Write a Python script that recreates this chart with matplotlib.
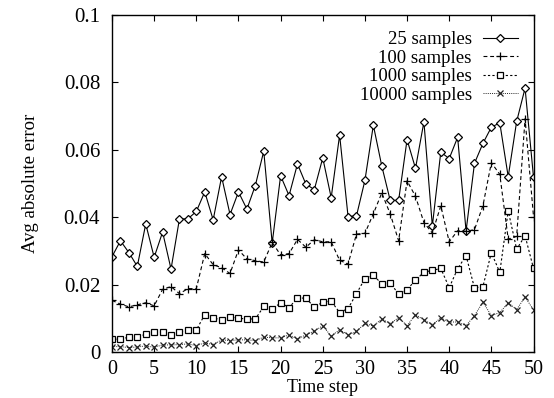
"""Average absolute error per time step for different sample counts."""

import matplotlib
matplotlib.use("Agg")
import matplotlib.pyplot as plt

steps = list(range(51))

err_25 = [0.0283, 0.0330, 0.0295, 0.0254, 0.0380, 0.0281, 0.0356, 0.0246, 0.0395, 0.0395,
          0.0417, 0.0475, 0.0392, 0.0520, 0.0408, 0.0475, 0.0424, 0.0494, 0.0596, 0.0323,
          0.0523, 0.0464, 0.0558, 0.0498, 0.0482, 0.0576, 0.0458, 0.0644, 0.0402, 0.0404,
          0.0509, 0.0673, 0.0552, 0.0450, 0.0450, 0.0630, 0.0545, 0.0683, 0.0374, 0.0593,
          0.0574, 0.0637, 0.0359, 0.0560, 0.0619, 0.0667, 0.0680, 0.0520, 0.0684, 0.0783,
          0.0519]
err_100 = [0.0153, 0.0142, 0.0134, 0.0140, 0.0146, 0.0137, 0.0186, 0.0194, 0.0173, 0.0188,
           0.0188, 0.0292, 0.0259, 0.0250, 0.0233, 0.0303, 0.0276, 0.0271, 0.0267, 0.0325,
           0.0288, 0.0292, 0.0334, 0.0311, 0.0333, 0.0327, 0.0327, 0.0272, 0.0261, 0.0350,
           0.0352, 0.0410, 0.0472, 0.0410, 0.0330, 0.0508, 0.0462, 0.0384, 0.0353, 0.0434,
           0.0327, 0.0360, 0.0358, 0.0363, 0.0434, 0.0562, 0.0527, 0.0335, 0.0343, 0.0692,
           0.0402]
err_1000 = [0.0038, 0.0038, 0.0044, 0.0044, 0.0053, 0.0059, 0.0059, 0.0050, 0.0060, 0.0065,
            0.0065, 0.0111, 0.0102, 0.0094, 0.0104, 0.0100, 0.0098, 0.0098, 0.0135, 0.0127,
            0.0146, 0.0132, 0.0160, 0.0160, 0.0133, 0.0148, 0.0151, 0.0117, 0.0129, 0.0173,
            0.0218, 0.0227, 0.0203, 0.0206, 0.0171, 0.0185, 0.0213, 0.0237, 0.0242, 0.0248,
            0.0191, 0.0247, 0.0286, 0.0190, 0.0194, 0.0295, 0.0236, 0.0419, 0.0305, 0.0345,
            0.0248]
err_10000 = [0.0016, 0.0016, 0.0013, 0.0015, 0.0018, 0.0014, 0.0021, 0.0021, 0.0022, 0.0024,
             0.0019, 0.0027, 0.0022, 0.0036, 0.0034, 0.0036, 0.0036, 0.0034, 0.0044, 0.0042,
             0.0042, 0.0051, 0.0038, 0.0051, 0.0062, 0.0078, 0.0047, 0.0066, 0.0051, 0.0061,
             0.0085, 0.0077, 0.0098, 0.0084, 0.0102, 0.0078, 0.0111, 0.0095, 0.0081, 0.0101,
             0.0089, 0.0089, 0.0078, 0.0108, 0.0148, 0.0108, 0.0117, 0.0146, 0.0126, 0.0163,
             0.0125]

labels = ["25 samples", "100 samples", "1000 samples", "10000 samples"]
yticks = [0, 0.02, 0.04, 0.06, 0.08, 0.1]
ytick_labels = ["0", "0.02", "0.04", "0.06", "0.08", "0.1"]
xticks = [0, 5, 10, 15, 20, 25, 30, 35, 40, 45, 50]

plt.rcParams["font.family"] = ["Liberation Serif", "DejaVu Serif"]
plt.rcParams["font.size"] = 14

fig = plt.figure(figsize=(5.54, 3.98), dpi=100)
ax = fig.add_axes([0.2022, 0.1156, 0.7608, 0.8467])

ax.plot(steps, err_25, "k-", lw=0.8, marker="D", ms=3.8, mfc="white", mec="k",
        mew=0.9, label=labels[0])
ax.plot(steps, err_100, color="k", ls=(0, (3.5, 2.5)), lw=0.8, marker="+", ms=6,
        mew=0.9, label=labels[1])
ax.plot(steps, err_1000, color="k", ls=(0, (2, 2)), lw=0.8, marker="s", ms=4.2,
        mfc="white", mec="k", mew=0.9, label=labels[2])
ax.plot(steps, err_10000, color="#222222", ls=(0, (1, 1.2)), lw=0.7, marker="x", ms=4.5,
        mew=0.9, label=labels[3])

ax.set_xlim(0, 50)
ax.set_ylim(0, 0.1)
ax.set_xticks(xticks)
ax.set_yticks(yticks)
ax.set_yticklabels(ytick_labels)
ax.tick_params(direction="in", top=True, right=True, length=4.5, width=0.8)
ax.tick_params(axis="x", pad=5.5, labelsize=14.5)
ax.tick_params(axis="y", pad=8.5, labelsize=15)
for s in ax.spines.values():
    s.set_linewidth(1.0)

ax.set_xlabel("Time step", fontsize=13, labelpad=0)
ax.set_ylabel("Avg absolute error", fontsize=13.5, labelpad=18)

ax.legend(loc="upper right", frameon=False, markerfirst=False, numpoints=1,
          handlelength=1.85, handletextpad=0.6, labelspacing=0.08,
          borderaxespad=0.85, borderpad=0.0, fontsize=13.5)

fig.savefig("out.png", dpi=100)
